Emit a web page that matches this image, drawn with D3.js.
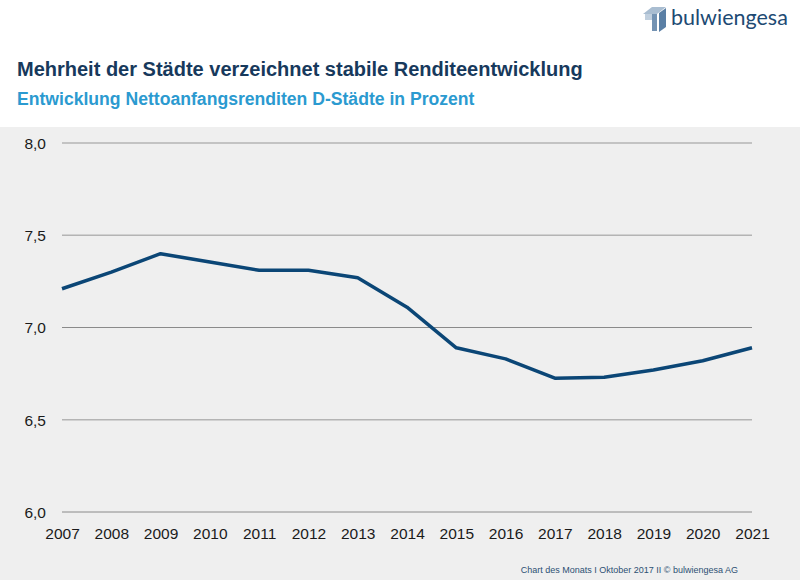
<!DOCTYPE html>
<html><head><meta charset="utf-8">
<script src="https://cdn.jsdelivr.net/npm/d3@7"></script>
<style>body{margin:0;background:#fff}svg{display:block}</style>
</head><body>
<script>
const years = [2007,2008,2009,2010,2011,2012,2013,2014,2015,2016,2017,2018,2019,2020,2021];
const values = [7.21,7.30,7.40,7.355,7.31,7.31,7.27,7.11,6.89,6.83,6.725,6.73,6.77,6.82,6.89];
const yTicks = [6.0,6.5,7.0,7.5,8.0];
const title = "Mehrheit der Städte verzeichnet stabile Renditeentwicklung";
const subtitle = "Entwicklung Nettoanfangsrenditen D-Städte in Prozent";
const footer = "Chart des Monats I Oktober 2017 II © bulwiengesa AG";

const W=800,H=580;
const svg=d3.select("body").append("svg").attr("width",W).attr("height",H);
const font="Liberation Sans, Arial, Helvetica, sans-serif";
svg.append("rect").attr("x",0).attr("y",127).attr("width",W).attr("height",H-127).attr("fill","#efefef");

// logo
const lg=svg.append("g").attr("transform","translate(641,5)");
lg.append("path").attr("d","M2,9 L11,2 L25,2 L16,9 Z").attr("fill","#a9bdd1");
lg.append("path").attr("d","M4,9 L11,9 L11,15 L4,15 Z").attr("fill","#c0cfde");
lg.append("path").attr("d","M11,9 L16,9 L16,26 L11,26 Z").attr("fill","#7493b3");
lg.append("path").attr("d","M18,8 L25,3 L25,22 L18,27 Z").attr("fill","#5a7fa5");
svg.append("text").attr("x",671).attr("y",25).attr("font-family","Lato, "+font).attr("font-size",21.5)
  .attr("fill","#1d4a73").text("bulwiengesa");

svg.append("text").attr("x",17).attr("y",76).attr("font-family",font).attr("font-weight","bold")
  .attr("font-size",20).attr("fill","#17395c").text(title);
svg.append("text").attr("x",17).attr("y",105).attr("font-family",font).attr("font-weight","bold")
  .attr("font-size",17.6).attr("fill","#2b9ad0").text(subtitle);

const x=d3.scaleLinear().domain([2007,2021]).range([62,752]);
const y=d3.scaleLinear().domain([6,8]).range([512,143]);

const grid=svg.append("g")
  .call(d3.axisLeft(y).tickValues(yTicks).tickSize(0).tickPadding(0).tickFormat(d=>d3.format(".1f")(d).replace(".",",")));
grid.select(".domain").remove();
grid.selectAll(".tick line").remove();
grid.selectAll(".tick text").attr("x",46).attr("dy","0.35em").attr("font-family",font).attr("font-size",15.5).attr("fill","#1a1a1a");
svg.append("g").selectAll("line").data(yTicks).join("line")
  .attr("x1",62).attr("x2",752).attr("y1",d=>y(d)).attr("y2",d=>y(d))
  .attr("stroke",d=>(d===7||d===6)?"#8a8a8a":"#b4b4b4").attr("stroke-width",d=>(d===7||d===6)?1:1.5);

const xa=svg.append("g").attr("transform","translate(0,527)")
  .call(d3.axisBottom(x).tickValues(years).tickSize(0).tickPadding(0).tickFormat(d3.format("d")));
xa.select(".domain").remove();
xa.selectAll(".tick text").attr("dy","0.75em").attr("font-family",font).attr("font-size",15.5).attr("fill","#1a1a1a");

svg.append("path").datum(years.map((d,i)=>[d,values[i]]))
  .attr("d",d3.line().x(d=>x(d[0])).y(d=>y(d[1])))
  .attr("fill","none").attr("stroke","#0b4676").attr("stroke-width",3.5).attr("stroke-linejoin","round");

svg.append("text").attr("x",738).attr("y",573).attr("text-anchor","end").attr("font-family",font)
  .attr("font-size",9).attr("fill","#2d4f73").text(footer);
</script>
</body></html>
